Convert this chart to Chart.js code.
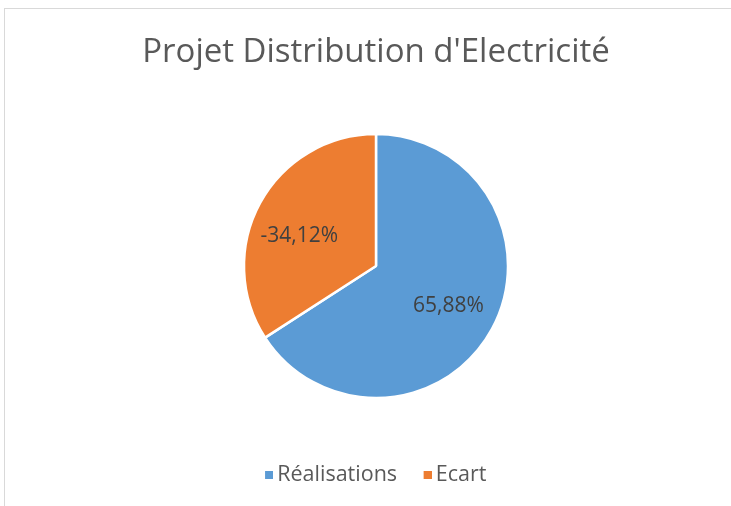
<!DOCTYPE html>
<html>
<head>
<meta charset="utf-8">
<script src="https://cdn.jsdelivr.net/npm/chart.js@4/dist/chart.umd.min.js"></script>
<style>
  html, body { margin: 0; padding: 0; background: #fff; }
  #wrap { position: relative; width: 731px; height: 506px; overflow: hidden; }
  #frame { position: absolute; left: 4px; top: 8px; width: 740px; height: 520px; border: 1px solid #d9d9d9; box-sizing: border-box; }
  canvas { position: absolute; left: 0; top: 0; }
</style>
</head>
<body>
<div id="wrap">
  <div id="frame"></div>
  <canvas id="c" width="731" height="506"></canvas>
</div>
<script>
const chartTitle = "Projet Distribution d'Electricité";
const categories = ["Réalisations", "Ecart"];
const values = [65.88, -34.12];
const colors = ["#5B9BD5", "#ED7D31"];

const fmt = v => v.toFixed(2).replace('.', ',') + '%';

// legend marker: 8px square drawn at the right end of a 14px-wide image
function marker(color) {
  const c = document.createElement('canvas');
  c.width = 14; c.height = 8;
  const g = c.getContext('2d');
  g.fillStyle = color;
  g.fillRect(6, 0, 8, 8);
  return c;
}
const markers = colors.map(marker);

const labelPlugin = {
  id: 'sliceLabels',
  afterDatasetsDraw(chart) {
    const ctx = chart.ctx;
    const meta = chart.getDatasetMeta(0);
    ctx.save();
    ctx.font = '21px "Open Sans", sans-serif';
    ctx.fillStyle = '#404040';
    ctx.textAlign = 'center';
    ctx.textBaseline = 'middle';
    meta.data.forEach((arc, i) => {
      const p = arc.getProps(['x', 'y', 'startAngle', 'endAngle', 'outerRadius'], true);
      let mid = (p.startAngle + p.endAngle) / 2;
      // keep label away from the slice's straight edge (best-fit style)
      const span = p.endAngle - p.startAngle;
      if (span < Math.PI) mid -= 0.12;
      const r = p.outerRadius * 0.625;
      ctx.fillText(fmt(values[i]), p.x + Math.cos(mid) * r, p.y + Math.sin(mid) * r);
    });
    ctx.restore();
  }
};

new Chart(document.getElementById('c'), {
  type: 'pie',
  data: {
    labels: categories,
    datasets: [{
      data: values.map(v => Math.abs(v)),
      backgroundColor: colors,
      borderColor: '#ffffff',
      borderWidth: 2.5
    }]
  },
  options: {
    responsive: false,
    animation: false,
    radius: 132,
    layout: { padding: { top: 0, bottom: 10, left: 21, right: 0 } },
    plugins: {
      title: {
        display: true,
        text: chartTitle,
        color: '#595959',
        font: { family: '"Open Sans", sans-serif', size: 33, weight: 'normal' },
        padding: { top: 33, bottom: 22 }
      },
      legend: {
        position: 'bottom',
        labels: {
          color: '#595959',
          font: { family: '"Open Sans", sans-serif', size: 21.5 },
          usePointStyle: true,
          boxWidth: 1,
          boxHeight: 8,
          padding: 27,
          generateLabels(chart) {
            const base = Chart.overrides.pie.plugins.legend.labels.generateLabels(chart);
            return base.map((it, i) => Object.assign(it, { pointStyle: markers[i] }));
          }
        }
      },
      tooltip: { enabled: false }
    }
  },
  plugins: [labelPlugin]
});
</script>
</body>
</html>
